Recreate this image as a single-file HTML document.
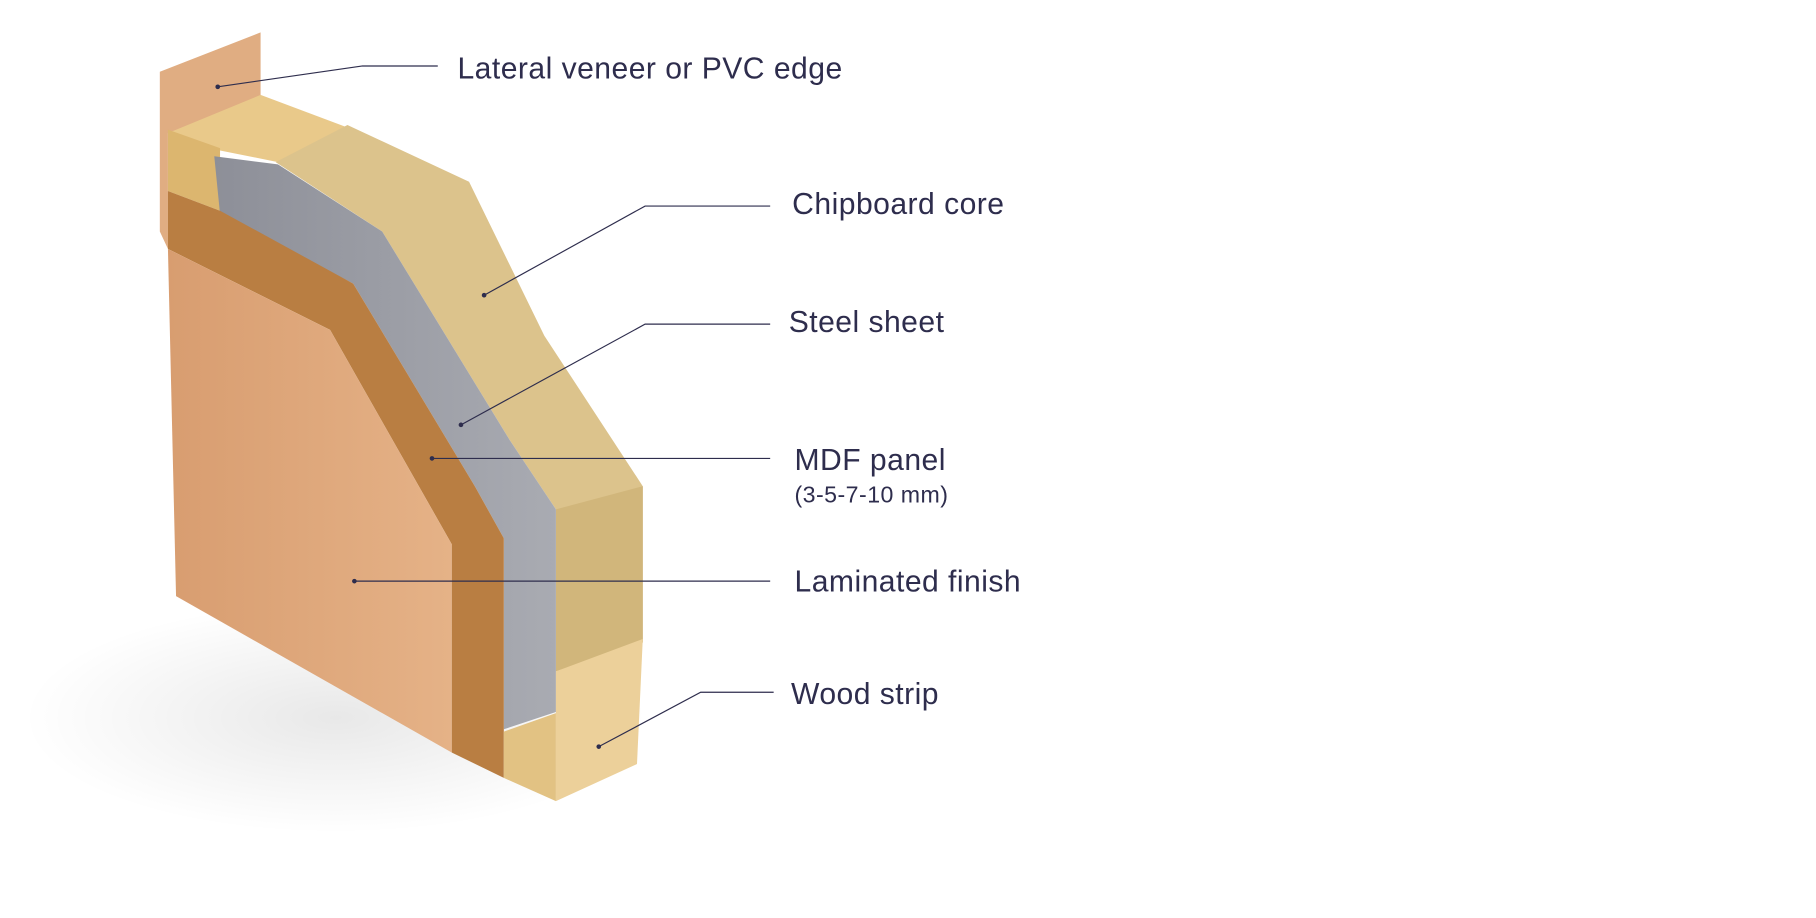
<!DOCTYPE html>
<html><head><meta charset="utf-8"><style>
html,body{margin:0;padding:0;background:#fff;width:1816px;height:918px;overflow:hidden}
svg{display:block}
text{font-family:"Liberation Sans",sans-serif;fill:#2e2d4d;letter-spacing:0.4px}
</style></head><body>
<svg width="1816" height="918" viewBox="0 0 1568 793" preserveAspectRatio="none">
<defs>
<linearGradient id="lam" x1="0" y1="0" x2="1" y2="0"><stop offset="0" stop-color="#d89d70"/><stop offset="1" stop-color="#e5b287"/></linearGradient>
<linearGradient id="stl" x1="0" y1="0" x2="1" y2="0"><stop offset="0" stop-color="#8d8f98"/><stop offset="1" stop-color="#a9abb2"/></linearGradient>
<radialGradient id="sh" cx="0.5" cy="0.5" r="0.5"><stop offset="0" stop-color="#000" stop-opacity="0.09"/><stop offset="1" stop-color="#000" stop-opacity="0"/></radialGradient>
</defs>
<ellipse cx="290" cy="620" rx="270" ry="100" fill="url(#sh)"/>
<polygon points="138,62 225,28 225,85 145,115 145,215 138,200" fill="#e0ad82"/>
<polygon points="145,115 225,82 305,112 240,140 190,130" fill="#e9c98a"/>
<polygon points="145,112 190,128 190,182 145,165" fill="#dcb66f"/>
<polygon points="238,140 300,108 405,157 470,290 555,420 555,555 480,580 480,440 440,380 330,200" fill="#dcc38c"/>
<polygon points="480,440 555,420 555,555 480,580" fill="#d1b67b"/>
<polygon points="185,135 240,142 330,200 440,380 480,440 480,615 435,630 435,465 410,420 305,245 190,185" fill="url(#stl)"/>
<polygon points="145,165 190,182 305,245 410,420 435,465 435,672 390,650 390,470 285,285 145,215" fill="#b97e42"/>
<polygon points="145,215 285,285 390,470 390,650 152,515" fill="url(#lam)"/>
<polygon points="480,580 555,552 550,660 480,692" fill="#ecd09a"/>
<polygon points="435,632 480,616 480,692 435,672" fill="#e2c283"/>
<g stroke="#2e2d4d" stroke-width="1" fill="none">
<polyline points="188,75 313,57 378,57"/>
<polyline points="418,255 557,178 665,178"/>
<polyline points="398,367 557,280 665,280"/>
<polyline points="373,396 665,396"/>
<polyline points="306,502 665,502"/>
<polyline points="517,645 605,598 668,598"/>
</g>
<g fill="#2e2d4d">
<circle cx="188" cy="75" r="2"/><circle cx="418" cy="255" r="2"/><circle cx="398" cy="367" r="2"/>
<circle cx="373" cy="396" r="2"/><circle cx="306" cy="502" r="2"/><circle cx="517" cy="645" r="2"/>
</g>
<g font-size="26">
<text x="395" y="68">Lateral veneer or PVC edge</text>
<text x="684" y="185">Chipboard core</text>
<text x="681" y="287">Steel sheet</text>
<text x="686" y="406">MDF panel</text>
<text x="686" y="434" font-size="20">(3-5-7-10 mm)</text>
<text x="686" y="511">Laminated finish</text>
<text x="683" y="608">Wood strip</text>
</g>
</svg>
</body></html>
